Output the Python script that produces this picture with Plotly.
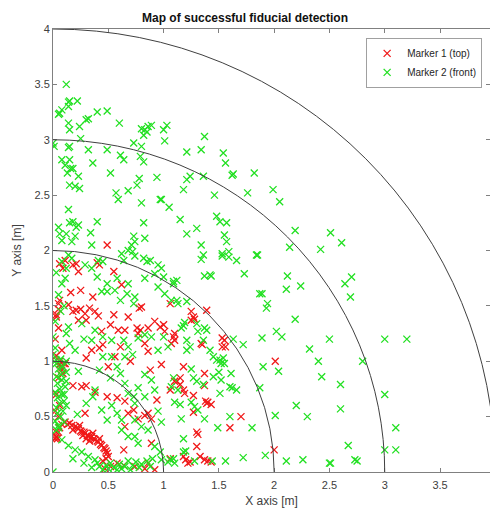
import plotly.graph_objects as go

# Marker 1 (top) detections, (x, y) in metres
marker1_points = [
    (0.49,2.05),(0.06,1.88),(0.09,1.84),(0.18,1.87),(0.21,1.88),(0.11,1.91),(0.23,1.81),(0.40,1.89),(0.42,1.87),
    (0.55,1.81),(0.62,1.69),(0.25,1.64),(0.05,1.52),(0.05,1.47),(0.03,1.42),(0.14,1.51),(0.18,1.45),(0.21,1.46),
    (0.25,1.47),(0.29,1.43),(0.33,1.48),(0.38,1.45),(0.41,1.41),(0.23,1.37),(0.30,1.37),(0.80,1.49),(0.78,1.48),
    (0.52,1.33),(0.44,1.27),(0.59,1.28),(0.65,1.28),(0.76,1.30),(0.79,1.28),(0.77,1.25),(0.86,1.30),(0.92,1.36),
    (0.97,1.31),(1.00,1.33),(1.01,1.27),(0.45,1.15),(0.42,1.12),(0.61,1.13),(0.56,1.04),(0.30,1.03),(0.83,1.16),
    (0.86,1.09),(0.98,0.97),(0.06,0.97),(0.11,0.98),(0.08,0.94),(0.09,0.89),(0.18,0.78),(0.26,0.77),(0.30,0.78),
    (0.38,0.72),(0.49,0.68),(0.58,0.67),(0.65,0.64),(0.68,0.53),(0.73,0.56),(0.77,0.48),(0.83,0.51),(0.86,0.53),
    (0.29,0.53),(0.94,0.65),(0.03,0.32),(0.02,0.30),
    (0.11,0.45),(0.13,0.43),(0.15,0.44),(0.17,0.42),(0.20,0.41),(0.22,0.40),(0.23,0.39),(0.25,0.37),(0.26,0.36),
    (0.28,0.36),(0.29,0.35),(0.31,0.33),(0.32,0.33),(0.34,0.31),(0.35,0.32),(0.37,0.30),(0.38,0.29),(0.40,0.28),
    (0.41,0.27),(0.43,0.25),(0.44,0.24),(0.46,0.22),(0.47,0.21),(0.48,0.19),(0.49,0.17),(0.50,0.14),(0.48,0.12),
    (0.45,0.10),(0.18,0.38),(0.24,0.42),(0.30,0.30),(0.36,0.35),(0.42,0.30),(0.27,0.33),(0.33,0.28),(0.06,0.40),
    (0.08,0.43),(0.05,0.36),
    (0.65,0.41),(0.64,0.20),(0.89,0.48),(0.89,0.26),(0.58,0.08),(0.64,0.06),(0.74,0.05),(0.83,0.03),(0.86,0.08),
    (0.92,0.02),(1.06,0.12),(0.52,0.05),(0.47,0.03),
    (1.39,1.46),(1.25,1.45),(1.27,1.40),(1.28,1.38),(1.25,1.37),(1.10,1.25),(1.09,1.22),(1.10,1.19),(1.07,1.16),
    (1.06,1.52),(1.35,1.15),(1.55,1.19),(1.53,1.13),(1.18,0.95),(1.37,0.89),(1.12,0.82),(1.15,0.79),(1.19,0.71),
    (1.27,0.69),(1.37,0.78),(1.38,0.64),(1.40,0.63),(1.43,0.61),(1.27,0.54),(1.70,0.50),(1.60,0.40),(1.31,0.34),
    (1.30,0.23),(2.01,1.00),(2.00,0.20),(1.18,0.14),(1.20,0.11),(1.22,0.08),(1.33,0.14),(1.37,0.11),(1.40,0.10),
    (1.43,0.09),(1.06,0.74),
    (1.53,1.21),(1.56,1.13),(1.34,1.16),(1.39,0.62),(1.30,0.36),(1.18,0.74),(1.10,0.82),(1.15,0.85),(1.24,0.09),
    (0.04,0.30),(0.03,0.36),(0.05,0.50),(0.02,0.55),(0.06,0.60),(0.03,0.70),(0.05,0.85),(0.08,0.92),(0.10,0.98),
    (0.06,1.00),(0.03,1.05),(0.08,1.10),(0.02,1.20),(0.05,1.30),(0.03,1.40),(0.06,1.55),
    (0.35,1.10),(0.50,0.95),(0.70,1.00),(0.88,0.92),(0.55,1.42),(0.68,1.40),(0.16,1.62),(0.36,1.58),
]

# Marker 2 (front) detections, (x, y) in metres
marker2_points = [
    (0.12,3.50),(0.06,3.24),(0.05,3.23),(0.08,3.27),(0.14,3.34),(0.15,3.35),(0.22,3.35),(0.14,3.30),(0.32,3.19),
    (0.30,3.18),(0.40,3.25),(0.49,3.26),(0.14,3.15),(0.15,3.09),(0.24,3.12),(0.25,3.01),(0.60,3.15),(0.80,3.10),
    (0.83,3.09),(0.86,3.12),(0.82,3.04),(0.89,3.13),(0.85,3.07),(1.00,3.09),(1.03,3.13),(1.01,2.99),(1.37,3.03),
    (0.01,2.94),(0.15,2.94),(0.14,2.93),(0.08,2.82),(0.11,2.77),(0.15,2.82),(0.16,2.74),(0.13,2.70),(0.18,2.74),
    (0.23,2.67),(0.32,2.91),(0.36,2.79),(0.49,2.91),(0.61,2.86),(0.64,2.82),(0.73,2.97),(0.80,2.94),(0.79,2.85),
    (0.82,2.80),(0.52,2.70),(0.15,2.59),(0.20,2.58),(0.24,2.56),(0.57,2.52),(0.59,2.46),(0.68,2.54),(0.76,2.59),
    (0.78,2.65),(0.80,2.43),(0.94,2.66),(0.97,2.46),(0.98,2.46),(1.05,2.39),(1.18,2.55),(1.21,2.89),(1.21,2.64),
    (1.24,2.67),(1.34,2.91),(1.36,2.67),(1.46,2.50),(1.54,2.88),(1.56,2.79),(1.62,2.68),(1.63,2.69),(1.82,2.70),
    (1.76,2.52),(1.99,2.55),(0.14,2.37),(0.05,2.21),(0.06,2.15),(0.12,2.15),(0.15,2.25),(0.18,2.26),(0.21,2.21),
    (0.23,2.23),(0.20,2.13),(0.17,2.08),(0.08,2.09),(0.34,2.16),(0.40,2.26),(0.35,2.05),(0.82,2.25),(0.83,2.11),
    (0.73,2.13),(0.74,2.08),(0.71,2.05),(0.68,2.00),(0.62,1.97),(1.15,2.28),(1.21,2.15),(1.30,2.20),(1.48,2.31),
    (1.51,2.26),(1.57,2.25),(1.55,2.14),(1.57,2.08),(1.34,2.05),(1.36,1.96),(1.53,1.97),(1.59,1.94),(1.84,1.96),
    (2.05,2.44),(2.19,2.18),(2.51,2.16),(2.61,2.07),(2.14,2.03),(2.42,2.01),(2.12,1.77),(2.11,1.65),(2.24,1.68),
    (2.70,1.76),(2.64,1.70),(2.69,1.58),(1.89,1.61),(3.00,1.20),(3.20,1.20),(2.80,1.00),(2.60,0.79),(3.00,0.70),
    (2.60,0.57),(3.10,0.40),(2.67,0.24),(3.00,0.20),(3.10,0.20),(2.73,0.11),(2.75,0.10),(2.51,0.08),
    (1.34,1.92),(1.53,1.95),(1.59,1.99),(1.66,1.91),(1.85,1.96),(1.37,1.77),(1.43,1.77),(1.73,1.79),(1.12,1.73),
    (1.09,1.70),(1.87,1.61),(1.94,1.52),(1.93,1.48),(2.19,1.38),(1.12,1.55),(1.13,1.52),(1.19,1.35),(1.18,1.32),
    (1.16,1.30),(1.31,1.27),(1.37,1.30),(1.89,1.21),(2.02,1.27),(2.07,1.22),(1.63,1.20),(1.72,1.15),(2.32,1.11),
    (2.50,1.20),(1.21,1.19),(1.24,1.13),(1.21,1.10),(1.45,1.04),(1.51,1.01),(1.54,1.03),(1.55,0.98),(1.90,0.95),
    (2.04,0.91),(2.40,1.00),(1.25,0.93),(1.50,0.90),(1.61,0.89),(1.09,0.85),(1.07,0.77),(1.13,0.74),(1.27,0.85),
    (1.30,0.82),(1.36,0.79),(1.10,0.63),(1.15,0.61),(1.25,0.63),(1.28,0.59),(1.31,0.56),(1.51,0.71),(1.62,0.76),
    (1.87,0.76),(2.43,0.86),(1.16,0.48),(1.37,0.48),(1.60,0.50),(1.80,0.40),(1.49,0.40),(2.01,0.51),(2.20,0.60),
    (2.30,0.50),(1.18,0.30),(1.18,0.18),(1.20,0.19),(1.06,0.11),(1.10,0.08),(1.28,0.10),(1.44,0.10),(1.56,0.10),
    (1.72,0.13),(1.92,0.15),(2.11,0.10),(2.26,0.11),(2.50,0.08),
    (0.82,1.93),(0.88,1.91),(1.09,1.72),(1.42,1.78),(1.21,1.54),(1.30,1.34),(1.39,1.28),(1.36,1.19),(1.42,1.10),
    (1.48,1.01),(1.52,0.98),(1.45,0.86),(1.52,0.83),(1.60,0.77),(1.66,0.74),
    (0.14,1.96),(0.08,1.90),(0.17,1.93),(0.12,1.84),(0.11,1.75),(0.29,1.87),(0.35,1.84),(0.41,1.91),(0.45,1.90),
    (0.64,1.91),(0.72,1.99),(0.74,1.95),(0.85,1.90),(0.95,1.87),(0.98,1.84),(1.00,1.76),(0.92,1.79),(0.83,1.75),
    (0.68,1.70),(0.58,1.75),(0.49,1.70),(0.44,1.63),(0.49,1.63),(0.56,1.64),(0.40,1.76),(0.67,1.61),(0.74,1.58),
    (0.61,1.55),(0.73,1.52),(0.95,1.67),(1.01,1.61),(1.07,1.55),(0.02,1.36),(0.00,1.22),(0.02,1.12),(0.00,1.06),
    (0.03,1.01),(0.14,1.31),(0.12,1.25),(0.15,1.16),(0.26,1.34),(0.38,1.28),(0.35,1.19),(0.45,1.22),(0.53,1.19),
    (0.64,1.19),(0.68,1.13),(0.45,1.04),(0.53,1.04),(0.65,1.04),(0.72,1.06),(0.77,1.21),(0.83,1.24),(0.89,1.22),
    (1.00,1.22),(1.04,1.13),(0.95,1.10),(0.23,0.91),(0.38,0.74),(0.36,0.68),(0.52,0.85),(0.61,0.89),(0.65,0.80),
    (0.68,0.71),(0.73,0.68),(0.77,0.76),(0.83,0.88),(0.89,0.83),(0.92,0.74),(0.83,0.68),(0.44,0.56),(0.53,0.60),
    (0.58,0.53),(0.49,0.47),(0.62,0.47),(0.74,0.62),(0.74,0.47),(0.80,0.41),(0.86,0.38),(0.08,0.29),(0.14,0.24),
    (0.20,0.20),(0.26,0.18),(0.32,0.14),(0.38,0.11),(0.62,0.38),(0.68,0.32),(0.74,0.32),(0.77,0.26),(0.92,0.23),
    (0.97,0.18),(0.98,0.11),(1.04,0.09),(1.09,0.12),(0.00,0.00),(0.00,2.97),
    (0.05,1.60),(0.08,1.70),(0.03,1.80),(0.10,1.50),(0.07,1.45),
    (0.42,0.05),(0.45,0.02),(0.48,0.06),(0.50,0.03),(0.52,0.08),(0.55,0.04),(0.58,0.02),(0.60,0.07),(0.62,0.03),
    (0.65,0.05),(0.68,0.10),(0.70,0.02),(0.72,0.06),(0.75,0.09),(0.78,0.04),(0.80,0.07),(0.85,0.10),(0.88,0.05),
    (0.90,0.12),
    (0.03,0.38),(0.05,0.42),(0.02,0.46),(0.07,0.50),(0.04,0.53),(0.09,0.55),(0.03,0.58),(0.06,0.62),(0.10,0.64),
    (0.04,0.67),(0.08,0.70),(0.02,0.72),(0.06,0.75),(0.11,0.77),(0.04,0.80),(0.08,0.83),(0.03,0.86),(0.07,0.88),
    (0.12,0.90),(0.05,0.93),(0.09,0.95),(0.03,0.98),(0.12,1.00),(0.07,1.02),(0.05,0.40),(0.10,0.45),(0.12,0.60),
    (0.10,0.70),(0.12,0.82),
    (0.20,1.10),(0.28,1.20),(0.58,0.95),(0.42,0.92),(0.30,0.62),(0.22,0.52),(0.95,0.55),(0.98,0.45),(0.18,0.12),
    (0.28,0.08),(0.35,0.04),(0.40,0.08),
]

ring_radii = [1, 2, 3, 4]
x_ticks = [0, 0.5, 1, 1.5, 2, 2.5, 3, 3.5]
y_ticks = [0, 0.5, 1, 1.5, 2, 2.5, 3, 3.5, 4]

m1x = [p[0] for p in marker1_points]
m1y = [p[1] for p in marker1_points]
m2x = [p[0] for p in marker2_points]
m2y = [p[1] for p in marker2_points]

fig = go.Figure()
fig.add_trace(go.Scatter(x=m1x, y=m1y, mode="markers", name="Marker 1 (top)",
                         marker=dict(symbol="x-thin", size=7, color="rgba(0,0,0,0)",
                                     line=dict(color="#f01818", width=1.3))))
fig.add_trace(go.Scatter(x=m2x, y=m2y, mode="markers", name="Marker 2 (front)",
                         marker=dict(symbol="x-thin", size=7, color="rgba(0,0,0,0)",
                                     line=dict(color="#22e022", width=1.3))))

for r in ring_radii:
    fig.add_shape(type="circle", xref="x", yref="y", x0=-r, y0=-r, x1=r, y1=r,
                  line=dict(color="#404040", width=1), layer="above")

axis_common = dict(showgrid=False, zeroline=False, showline=True, linecolor="#808080", linewidth=1,
                   mirror="ticks", ticks="inside", ticklen=4, tickcolor="#808080",
                   tickfont=dict(size=11, color="#404040"))

fig.update_layout(
    width=490, height=510,
    margin=dict(l=53, r=0, t=29, b=38),
    paper_bgcolor="white", plot_bgcolor="white",
    font=dict(family="Liberation Sans, Arial, sans-serif", color="#262626"),
    title=dict(text="<b>Map of successful fiducial detection</b>", x=0.5, xanchor="center",
               y=0.965, yanchor="middle", font=dict(size=12, color="#111111")),
    xaxis=dict(range=[0, 3.952], tickvals=x_ticks, ticktext=[str(t) for t in x_ticks],
               ticklabelstandoff=3,
               title=dict(text="X axis [m]", font=dict(size=12, color="#404040"), standoff=6), **axis_common),
    yaxis=dict(range=[0, 4], tickvals=y_ticks, ticktext=[str(t) for t in y_ticks],
               title=dict(text="Y axis [m]", font=dict(size=12, color="#404040"), standoff=10), **axis_common),
    legend=dict(x=0.982, y=0.98, xanchor="right", yanchor="top", bgcolor="white",
                bordercolor="#a0a0a0", borderwidth=1, font=dict(size=10, color="#262626"),
                tracegroupgap=0, itemwidth=30),
    showlegend=True,
)

fig.write_html("out.html", config={"displayModeBar": False},
               post_script="document.body.style.margin='0px';")
